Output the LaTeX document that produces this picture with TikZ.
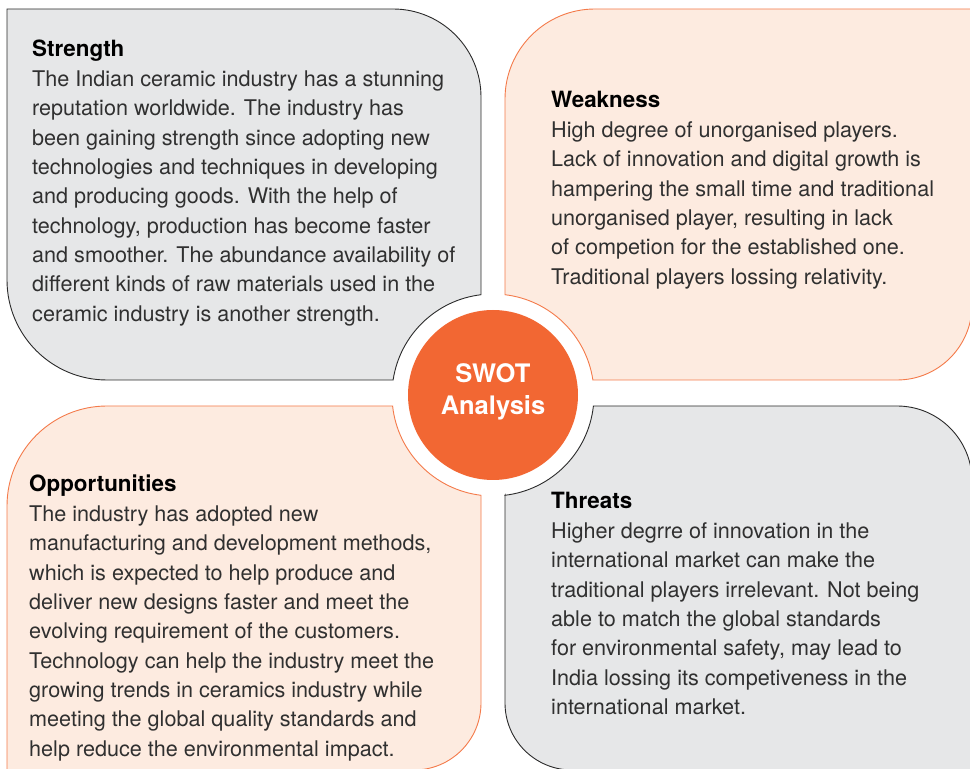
\documentclass[tikz,border=0pt]{standalone}
\usepackage{fontspec}
\setmainfont{TeX Gyre Heros}
\definecolor{panelgray}{HTML}{E6E7E8}
\definecolor{panelpeach}{HTML}{FDEBE0}
\definecolor{swotorange}{HTML}{F26733}
\definecolor{peachline}{HTML}{F47A4A}
\definecolor{grayline}{HTML}{2A2A2A}
\definecolor{bodytext}{HTML}{303030}
\tikzset{
  graypanel/.style={fill=panelgray,draw=grayline,line width=0.9pt},
  peachpanel/.style={fill=panelpeach,draw=peachline,line width=0.9pt},
  paneltext/.style={anchor=base west,inner sep=0pt,text=bodytext},
}
\newcommand{\paneltxt}[1]{\parbox[t]{440pt}{\raggedright\fontsize{21.6}{29.35}\selectfont #1}}
\newcommand{\paneltitle}[1]{{\fontsize{22.4}{29.35}\selectfont\bfseries\textcolor{black}{#1}}}
\begin{document}
\begin{tikzpicture}[x=1pt,y=1pt]
\useasboundingbox (0,0) rectangle (970,769);
\coordinate (C) at (493,374);
% Strength
\draw[graypanel] (7,760) -- (393,760) arc[start angle=90,end angle=0,radius=88]
  -- (481,474.28) arc[start angle=96.82,end angle=171.46,radius=101]
  -- (107,389) arc[start angle=270,end angle=180,radius=100] -- cycle;
% Weakness
\draw[peachpanel] (592.88,389) arc[start angle=8.54,end angle=83.18,radius=101]
  -- (505,670) arc[start angle=180,end angle=90,radius=90]
  -- (972,760) -- (972,464) arc[start angle=0,end angle=-90,radius=75] -- cycle;
% Opportunities
\draw[peachpanel] (7,-1) -- (7,263) arc[start angle=180,end angle=90,radius=100]
  -- (392.6,363) arc[start angle=186.25,end angle=263.18,radius=101]
  -- (481,66) arc[start angle=0,end angle=-90,radius=67] -- cycle;
% Threats
\draw[graypanel] (505,273.72) -- (505,66) arc[start angle=180,end angle=270,radius=67]
  -- (972,-1) -- (972,288) arc[start angle=0,end angle=90,radius=75]
  -- (593.4,363) arc[start angle=-6.25,end angle=-83.18,radius=101] -- cycle;
% centre
\node[circle,fill=swotorange,minimum size=170pt,inner sep=0pt] (swot) at (C) {};
\node[anchor=base,inner sep=0pt,text=white] (swottxt) at (493,386)
  {\parbox[t]{160pt}{\centering\fontsize{25.5}{32}\selectfont\bfseries SWOT\\Analysis}};
% texts
\node[paneltext] (strength) at (32,712) {\paneltxt{\paneltitle{Strength}\\
The Indian ceramic industry has a stunning\\
reputation worldwide. The industry has\\
been gaining strength since adopting new\\
technologies and techniques in developing\\
and producing goods. With the help of\\
technology, production has become faster\\
and smoother. The abundance availability of\\
different kinds of raw materials used in the\\
ceramic industry is another strength.}};
\node[paneltext] (weakness) at (551,661) {\paneltxt{\paneltitle{Weakness}\\
High degree of unorganised players.\\
Lack of innovation and digital growth is\\
hampering the small time and traditional\\
unorganised player, resulting in lack\\
of competion for the established one.\\
Traditional players lossing relativity.}};
\node[paneltext] (opportunities) at (29,277) {\paneltxt{\paneltitle{Opportunities}\\
The industry has adopted new\\
manufacturing and development methods,\\
which is expected to help produce and\\
deliver new designs faster and meet the\\
evolving requirement of the customers.\\
Technology can help the industry meet the\\
growing trends in ceramics industry while\\
meeting the global quality standards and\\
help reduce the environmental impact.}};
\node[paneltext] (threats) at (551,260) {\paneltxt{\paneltitle{Threats}\\
Higher degrre of innovation in the\\
international market can make the\\
traditional players irrelevant. Not being\\
able to match the global standards\\
for environmental safety, may lead to\\
India lossing its competiveness in the\\
international market.}};
\end{tikzpicture}
\end{document}
